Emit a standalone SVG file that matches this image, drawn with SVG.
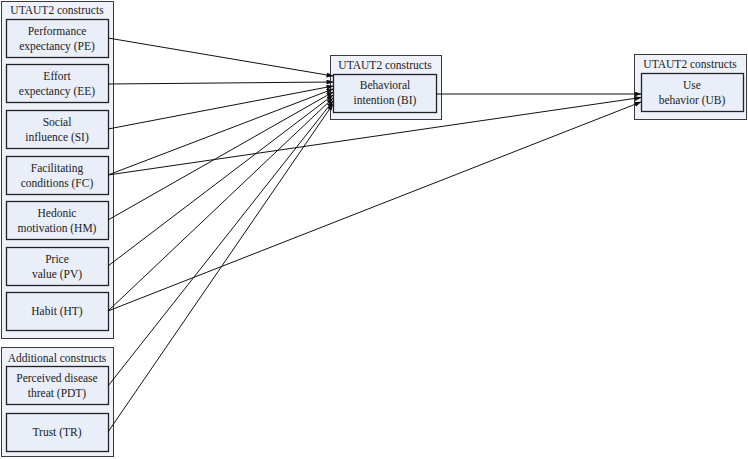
<svg xmlns="http://www.w3.org/2000/svg" width="748" height="459" viewBox="0 0 748 459" font-family="'Liberation Serif', 'Times New Roman', Times, serif">
<defs>
<style>
.cont{fill:#eef1f9;stroke:#3a3a3a;stroke-width:1}
.box{fill:#e9eef8;stroke:#222;stroke-width:1.3}
text{font-family:'Liberation Serif','Times New Roman',Times,serif;font-size:11.5px;fill:#222;text-anchor:middle}
.conn line{stroke:#111;stroke-width:1;marker-end:url(#arr)}
</style>
<marker id="arr" markerUnits="userSpaceOnUse" markerWidth="7" markerHeight="6" refX="6.5" refY="2.5" orient="auto"><path d="M0,0 L7,2.5 L0,5 z" fill="#111"/></marker>
</defs>
<rect width="748" height="459" fill="#fff"/>
<g id="utaut2-left">
<rect class="cont" x="1.5" y="1.5" width="112" height="337"/>
<text x="57" y="14">UTAUT2 constructs</text>
</g>
<g id="PE"><rect class="box" x="6.5" y="19.5" width="102" height="38"/><text x="57" y="35">Performance</text><text x="57" y="50">expectancy (PE)</text></g>
<g id="EE"><rect class="box" x="6.5" y="64.5" width="102" height="38"/><text x="57" y="80">Effort</text><text x="57" y="95">expectancy (EE)</text></g>
<g id="SI"><rect class="box" x="6.5" y="110.5" width="102" height="38"/><text x="57" y="126">Social</text><text x="57" y="141">influence (SI)</text></g>
<g id="FC"><rect class="box" x="6.5" y="156.5" width="102" height="38"/><text x="57" y="172">Facilitating</text><text x="57" y="187">conditions (FC)</text></g>
<g id="HM"><rect class="box" x="6.5" y="201.5" width="102" height="38"/><text x="57" y="217">Hedonic</text><text x="57" y="232">motivation (HM)</text></g>
<g id="PV"><rect class="box" x="6.5" y="247.5" width="102" height="38"/><text x="57" y="263">Price</text><text x="57" y="278">value (PV)</text></g>
<g id="HT"><rect class="box" x="6.5" y="292.5" width="102" height="38"/><text x="57" y="315">Habit (HT)</text></g>
<g id="additional">
<rect class="cont" x="1.5" y="347.5" width="112" height="109"/>
<text x="57" y="362">Additional constructs</text>
</g>
<g id="PDT"><rect class="box" x="6.5" y="366.5" width="102" height="38"/><text x="57" y="382">Perceived disease</text><text x="57" y="397">threat (PDT)</text></g>
<g id="TR"><rect class="box" x="6.5" y="413.5" width="102" height="38"/><text x="57" y="436">Trust (TR)</text></g>
<g id="BI">
<rect class="cont" x="330.5" y="55.5" width="111" height="64"/>
<text x="385" y="69">UTAUT2 constructs</text>
<rect class="box" x="333.5" y="74.5" width="103" height="38"/>
<text x="385" y="89">Behavioral</text><text x="385" y="104">intention (BI)</text>
</g>
<g id="UB">
<rect class="cont" x="634.5" y="54.5" width="112" height="65"/>
<text x="690" y="68">UTAUT2 constructs</text>
<rect class="box" x="641.5" y="73.5" width="102" height="38"/>
<text x="692" y="89">Use</text><text x="692" y="104">behavior (UB)</text>
</g>
<g class="conn" id="connectors">
<line x1="108" y1="38" x2="333" y2="76"/>
<line x1="108" y1="84" x2="333" y2="82"/>
<line x1="108" y1="129" x2="333" y2="86"/>
<line x1="108" y1="175" x2="333" y2="89"/>
<line x1="108" y1="220" x2="333" y2="92"/>
<line x1="108" y1="266" x2="333" y2="95"/>
<line x1="108" y1="311" x2="333" y2="98"/>
<line x1="108" y1="386" x2="333" y2="101"/>
<line x1="108" y1="432" x2="333" y2="104"/>
<line x1="436" y1="94" x2="641" y2="94"/>
<line x1="108" y1="175" x2="641" y2="97.5"/>
<line x1="108" y1="311" x2="641" y2="102"/>
</g>
</svg>
